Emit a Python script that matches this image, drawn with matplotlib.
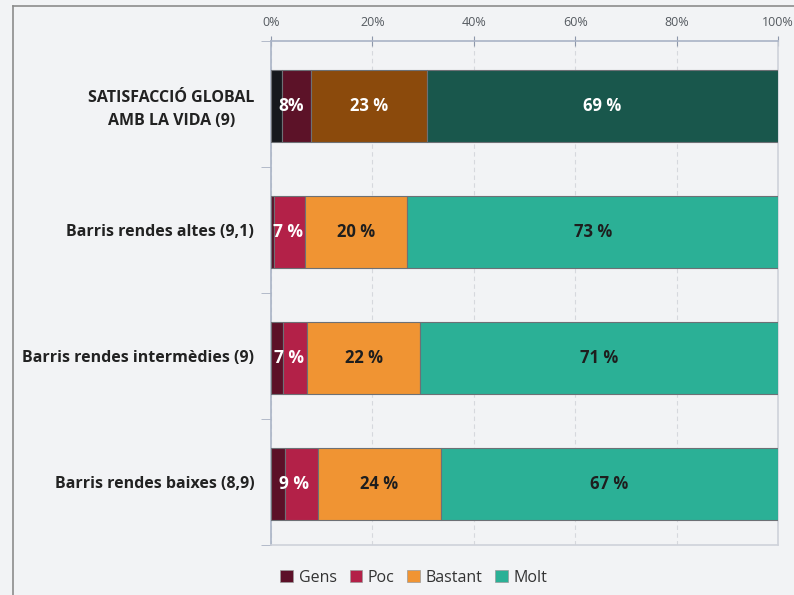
import numpy as np
import matplotlib.pyplot as plt
from matplotlib.patches import Patch
from matplotlib.lines import Line2D

plt.rcParams['font.family'] = ['Open Sans', 'DejaVu Sans']

# data
groups = ["SATISFACCIÓ GLOBAL\nAMB LA VIDA (9)", "Barris rendes altes (9,1)",
          "Barris rendes intermèdies (9)", "Barris rendes baixes (8,9)"]
levels = ["Gens", "Poc", "Bastant", "Molt"]
gens = [2.2, 0.5, 2.3, 2.7]
poc = [5.6, 6.3, 4.9, 6.5]
bastant = [22.9, 20.1, 22.1, 24.3]
molt = [69.3, 73.1, 70.7, 66.5]
low_labels = ["8%", "7 %", "7 %", "9 %"]
bastant_labels = ["23 %", "20 %", "22 %", "24 %"]
molt_labels = ["69 %", "73 %", "71 %", "67 %"]

dark_cols = ["#16181d", "#5c1228", "#8b4a0c", "#19574c"]
cols = ["#5c1028", "#b32148", "#f09433", "#2bb096"]

bg = "#f2f3f5"
fig = plt.figure(figsize=(7.94, 5.95), dpi=100, facecolor=bg)
ax = fig.add_axes([0.3413, 0.084, 0.6385, 0.8471], facecolor=bg)

y = np.arange(len(groups))
series = [gens, poc, bastant, molt]
left = np.zeros(len(groups))
for k, vals in enumerate(series):
    colors = [dark_cols[k] if i == 0 else cols[k] for i in range(len(groups))]
    ax.barh(y + 0.015, vals, left=left, height=0.57, color=colors,
            edgecolor="#6d7075", linewidth=0.8, zorder=3)
    left = left + np.array(vals)

for i in range(len(groups)):
    dark = i == 0
    g, p, b, m = gens[i], poc[i], bastant[i], molt[i]
    yy = i + 0.015
    ax.text((g + p) / 2, yy, low_labels[i], ha="center", va="center",
            color="white", fontsize=12.5, fontweight="bold", zorder=4)
    ax.text(g + p + b / 2, yy, bastant_labels[i], ha="center", va="center",
            color="white" if dark else "#1e1e1e", fontsize=12,
            fontweight="bold", zorder=4)
    ax.text(g + p + b + m / 2, yy, molt_labels[i], ha="center", va="center",
            color="white" if dark else "#1e1e1e", fontsize=12,
            fontweight="bold", zorder=4)

ax.set_xlim(0, 100)
ax.set_ylim(3.5, -0.5)
ax.xaxis.tick_top()
ax.set_xticks(np.arange(0, 101, 20))
ax.set_xticklabels([f"{v}%" for v in range(0, 101, 20)], color="#555a60", fontsize=9)
ax.tick_params(axis="x", direction="inout", length=7, color="#8d97aa", pad=5)
ax.grid(axis="x", color="#d6d8dd", linestyle=(0, (4, 3)), linewidth=0.8, zorder=0)

ax.set_yticks(y)
ax.set_yticklabels(groups, fontsize=11.5, fontweight="bold", color="#222222",
                   linespacing=1.6, multialignment="center")
ax.tick_params(axis="y", length=0, pad=12)
ax.set_yticks(np.arange(-0.5, 3.6, 1), minor=True)
ax.tick_params(axis="y", which="minor", length=7, color="#a9b1c2", direction="out")

for s in ["top", "left"]:
    ax.spines[s].set_color("#a9b3c6")
    ax.spines[s].set_linewidth(1.2)
for s in ["right", "bottom"]:
    ax.spines[s].set_color("#cfd2da")
    ax.spines[s].set_linewidth(1.2)

# legend
handles = [Patch(facecolor=c, edgecolor="#9a9a9a", linewidth=0.5) for c in cols]
fig.legend(handles, levels, loc="center left", bbox_to_anchor=(0.335, 0.029),
           ncol=4, frameon=False, fontsize=11.5, handlelength=0.8,
           handleheight=0.8, handletextpad=0.35, columnspacing=0.8,
           labelcolor="#333333")

# outer frame lines (top and left)
fig.add_artist(Line2D([0.016, 1.0], [0.99, 0.99], color="#8c8c8c", linewidth=1.2))
fig.add_artist(Line2D([0.016, 0.016], [0.0, 0.99], color="#8c8c8c", linewidth=1.2))

fig.savefig("out.png", dpi=100, facecolor=bg)
